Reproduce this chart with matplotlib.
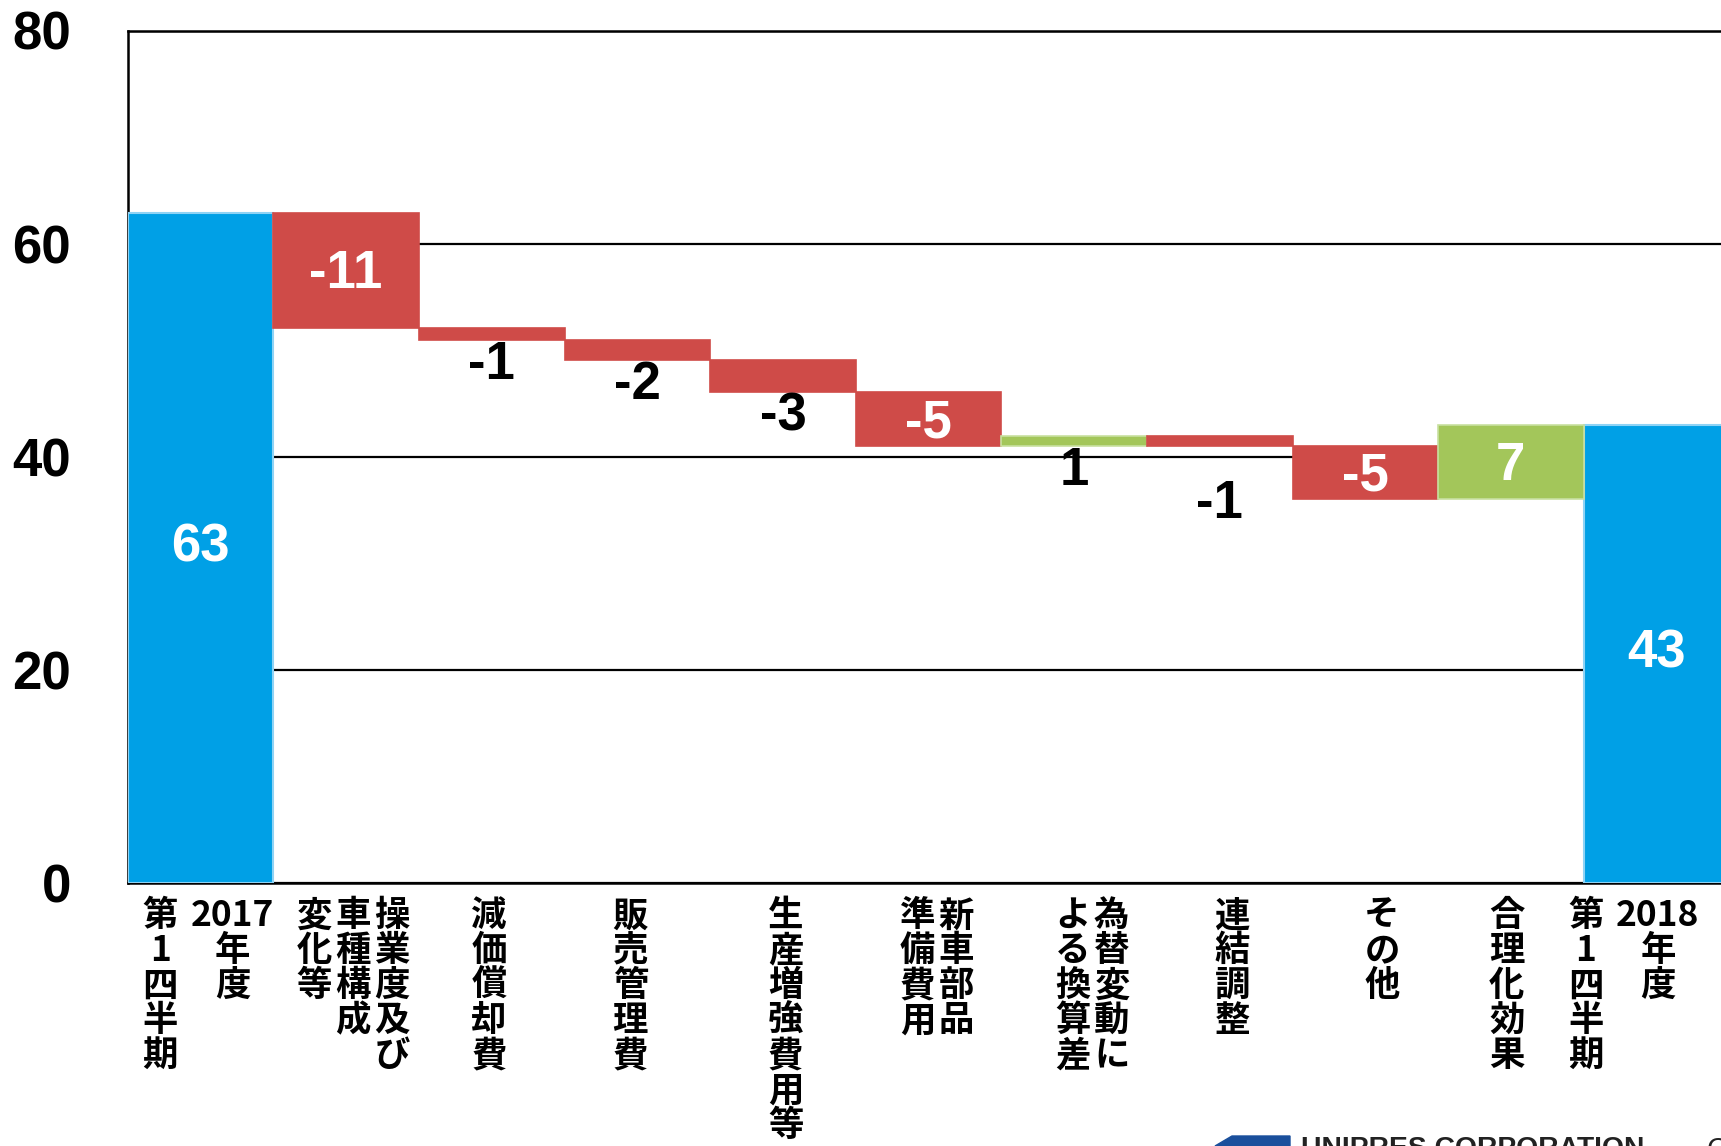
import re
import numpy as np
import matplotlib
matplotlib.use('Agg')
import matplotlib.pyplot as plt
from matplotlib.patches import Polygon

# operating profit bridge, 2017 Q1 -> 2018 Q1
categories = ['2017年度\n第1四半期', '操業度及び\n車種構成\n変化等', '減価償却費', '販売管理費',
              '生産増強費用等', '新車部品\n準備費用', '為替変動に\nよる換算差', '連結調整',
              'その他', '合理化効果', '2018年度\n第1四半期']
start_value = 62.9
changes = [-10.8, -1.1, -1.9, -3.0, -5.1, 0.95, -0.95, -5.0, 7.0]
end_value = 43.0
y_ticks = [0, 20, 40, 60, 80]

BLUE = '#00a0e6'
RED = '#cf4b48'
GREEN = '#a3c65a'
NUM_FONT = ['Liberation Sans', 'DejaVu Sans']
JP_FONT = ['Noto Sans CJK JP', 'DejaVu Sans']

# small layout tweaks for the vertical category labels (points)
label_shift = [-3, 5, -2, -5, 2, 6, 13, 9, 12, -3, -25]
extra_drop = {6: 24}   # index into changes

fig = plt.figure(figsize=(17.21, 11.46), dpi=100)
ax = fig.add_axes([127.7 / 1721, (1146 - 883) / 1146, 1601.6 / 1721, (883 - 30.5) / 1146])

n = len(categories)
x = np.arange(n)

# waterfall geometry
levels = start_value + np.cumsum(changes)
before = np.concatenate([[start_value], levels[:-1]])
ch = np.array(changes)
bottoms = np.where(ch < 0, levels, before)
heights = np.abs(ch)
ch_colors = [GREEN if c > 0 else RED for c in changes]
ch_edges = ['#c8e0a0' if c > 0 else RED for c in changes]

ax.bar([0, n - 1], [start_value, end_value], width=1.0, color=BLUE,
       edgecolor='#8fd3f5', linewidth=1.5, zorder=3)
ax.bar(x[1:-1], heights, bottom=bottoms, width=1.0, color=ch_colors,
       edgecolor=ch_edges, linewidth=1.2, zorder=3)

# value labels
for xi, v in [(0, start_value), (n - 1, end_value)]:
    ax.text(xi, v / 2, f'{round(v):d}', ha='center', va='center', color='white',
            fontsize=38, fontweight='bold', family=NUM_FONT, zorder=4)

for k, c in enumerate(changes):
    xi = k + 1
    txt = f'{round(c):d}'
    if abs(c) >= 4:
        ax.annotate(txt, xy=(xi, bottoms[k] + heights[k] / 2), xytext=(0, -3),
                    textcoords='offset points', ha='center', va='center',
                    color='white', fontsize=38, fontweight='bold', family=NUM_FONT, zorder=4)
    else:
        drop = 18 + extra_drop.get(k, 0)
        ax.annotate(txt, xy=(xi, bottoms[k]), xytext=(0, -drop), textcoords='offset points',
                    ha='center', va='center', color='black', fontsize=38,
                    fontweight='bold', family=NUM_FONT, zorder=4)

# axes styling
ax.set_xlim(-0.5, n - 0.5)
ax.set_ylim(0, 80)
ax.set_yticks(y_ticks)
ax.set_yticklabels([str(t) for t in y_ticks], fontsize=38, fontweight='bold', family=NUM_FONT)
ax.tick_params(axis='y', length=0, pad=41)
ax.set_xticks([])
ax.yaxis.grid(True, color='black', linewidth=1.6)
ax.set_axisbelow(True)
for s in ax.spines.values():
    s.set_color('black')
    s.set_linewidth(1.8)

# vertical japanese category labels (columns read right to left)
xform = ax.get_xaxis_transform()
for i, lab in enumerate(categories):
    cols = lab.split('\n')[::-1]
    tokens = [re.findall(r'[0-9]{2,}|.', col) for col in cols]
    gap = 52 if any(len(t) > 1 for tk in tokens for t in tk) else 28
    m = len(cols)
    for j, tk in enumerate(tokens):
        dx = (j - (m - 1) / 2) * gap + label_shift[i]
        ax.annotate('\n'.join(tk), xy=(i, 0), xycoords=xform, xytext=(dx, -11),
                    textcoords='offset points', ha='center', va='top', ma='center',
                    fontsize=25.5, fontweight='bold', family=JP_FONT, linespacing=1.0,
                    annotation_clip=False)

# company footer, mostly cut off at the bottom edge
fig.patches.append(Polygon([[1215 / 1721, 0], [1232 / 1721, 10 / 1146],
                            [1290 / 1721, 10 / 1146], [1290 / 1721, 0]],
                           closed=True, transform=fig.transFigure, color='#1a4f9c'))
fig.text(1301 / 1721, 10 / 1146, 'UNIPRES CORPORATION', ha='left', va='top',
         fontsize=20.3, fontweight='bold', family=NUM_FONT, color='#222222')
fig.text(1707 / 1721, 10 / 1146, 'Copyright', ha='left', va='top',
         fontsize=21, family=NUM_FONT, color='#222222')

fig.savefig('out.png', dpi=100)
